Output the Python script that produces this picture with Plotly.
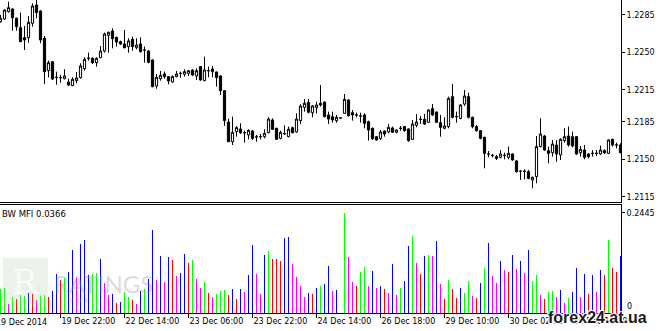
import plotly.graph_objects as go

# ---------------- data (hourly EURUSD-like candles) ----------------
opens = [1.22787, 1.22812, 1.22881, 1.22906, 1.22819, 1.22731, 1.22638, 1.22638, 1.22772, 1.22943,
         1.22887, 1.22632, 1.22329, 1.22413, 1.22267, 1.22264, 1.22254, 1.22223, 1.22189, 1.22236,
         1.22264, 1.22348, 1.22445, 1.22445, 1.22404, 1.22451, 1.22513, 1.22660, 1.22700, 1.22641,
         1.22600, 1.22579, 1.22554, 1.22622, 1.22544, 1.22579, 1.22522, 1.22513, 1.22429, 1.22186,
         1.22254, 1.22298, 1.22273, 1.22223, 1.22273, 1.22304, 1.22295, 1.22304, 1.22335, 1.22279,
         1.22367, 1.22236, 1.22329, 1.22345, 1.22317, 1.22279, 1.22142, 1.21849, 1.21665, 1.21759,
         1.21784, 1.21749, 1.21728, 1.21765, 1.21709, 1.21712, 1.21712, 1.21749, 1.21868, 1.21790,
         1.21696, 1.21740, 1.21712, 1.21796, 1.21756, 1.21862, 1.21986, 1.22033, 1.21936, 1.21983,
         1.22024, 1.22036, 1.21915, 1.21899, 1.21862, 1.21887, 1.21930, 1.22055, 1.21936, 1.21915,
         1.21905, 1.21915, 1.21852, 1.21790, 1.21712, 1.21696, 1.21765, 1.21756, 1.21793, 1.21753,
         1.21790, 1.21806, 1.21784, 1.21687, 1.21818, 1.21874, 1.21874, 1.21846, 1.21974, 1.21943,
         1.21843, 1.21790, 1.21806, 1.22086, 1.21899, 1.21883, 1.22017, 1.22086, 1.21893, 1.21806,
         1.21768, 1.21706, 1.21550, 1.21537, 1.21525, 1.21519, 1.21537, 1.21519, 1.21550, 1.21485,
         1.21388, 1.21388, 1.21385, 1.21307, 1.21338, 1.21619, 1.21718, 1.21581, 1.21562, 1.21634,
         1.21541, 1.21675, 1.21718, 1.21712, 1.21712, 1.21562, 1.21587, 1.21550, 1.21556, 1.21556,
         1.21550, 1.21581, 1.21556, 1.21687, 1.21634, 1.21634]
highs = [1.22850, 1.22903, 1.22974, 1.22912, 1.22825, 1.22872, 1.22747, 1.22840, 1.22959, 1.22990,
         1.22896, 1.22653, 1.22423, 1.22420, 1.22320, 1.22289, 1.22342, 1.22254, 1.22267, 1.22317,
         1.22398, 1.22454, 1.22498, 1.22454, 1.22454, 1.22560, 1.22685, 1.22694, 1.22725, 1.22647,
         1.22610, 1.22710, 1.22632, 1.22647, 1.22632, 1.22641, 1.22554, 1.22522, 1.22435, 1.22298,
         1.22326, 1.22320, 1.22279, 1.22286, 1.22326, 1.22320, 1.22342, 1.22335, 1.22342, 1.22351,
         1.22373, 1.22460, 1.22367, 1.22373, 1.22320, 1.22286, 1.22148, 1.21880, 1.21899, 1.21812,
         1.21837, 1.21768, 1.21781, 1.21774, 1.21728, 1.21737, 1.21781, 1.21893, 1.21883, 1.21796,
         1.21768, 1.21818, 1.21806, 1.21806, 1.21930, 1.22014, 1.22064, 1.22064, 1.22008, 1.22039,
         1.22195, 1.22039, 1.21946, 1.21946, 1.21915, 1.21890, 1.22111, 1.22061, 1.21961, 1.21936,
         1.21936, 1.21930, 1.21862, 1.21799, 1.21718, 1.21774, 1.21768, 1.21830, 1.21806, 1.21781,
         1.21812, 1.21812, 1.21790, 1.21868, 1.21924, 1.21905, 1.21924, 1.21968, 1.22017, 1.21946,
         1.21915, 1.21893, 1.22086, 1.22205, 1.21946, 1.22017, 1.22148, 1.22123, 1.21899, 1.21821,
         1.21774, 1.21712, 1.21578, 1.21550, 1.21541, 1.21587, 1.21562, 1.21619, 1.21556, 1.21494,
         1.21400, 1.21407, 1.21400, 1.21338, 1.21718, 1.21883, 1.21728, 1.21619, 1.21681, 1.21681,
         1.21696, 1.21790, 1.21806, 1.21759, 1.21718, 1.21625, 1.21634, 1.21556, 1.21587, 1.21587,
         1.21628, 1.21594, 1.21687, 1.21693, 1.21656, 1.21650]
lows = [1.22778, 1.22803, 1.22872, 1.22703, 1.22703, 1.22597, 1.22522, 1.22591, 1.22741, 1.22819,
        1.22585, 1.22205, 1.22267, 1.22242, 1.22198, 1.22217, 1.22248, 1.22186, 1.22186, 1.22211,
        1.22254, 1.22329, 1.22423, 1.22392, 1.22367, 1.22445, 1.22498, 1.22498, 1.22538, 1.22554,
        1.22569, 1.22538, 1.22498, 1.22516, 1.22529, 1.22498, 1.22404, 1.22398, 1.22173, 1.22161,
        1.22236, 1.22254, 1.22201, 1.22217, 1.22267, 1.22264, 1.22273, 1.22279, 1.22279, 1.22242,
        1.22236, 1.22230, 1.22267, 1.22267, 1.22180, 1.22102, 1.21812, 1.21662, 1.21634, 1.21712,
        1.21737, 1.21656, 1.21687, 1.21681, 1.21665, 1.21687, 1.21696, 1.21743, 1.21774, 1.21681,
        1.21687, 1.21728, 1.21706, 1.21743, 1.21749, 1.21830, 1.21946, 1.21930, 1.21893, 1.21930,
        1.21993, 1.21893, 1.21830, 1.21843, 1.21843, 1.21883, 1.21924, 1.21899, 1.21862, 1.21893,
        1.21843, 1.21790, 1.21675, 1.21681, 1.21675, 1.21681, 1.21712, 1.21743, 1.21749, 1.21743,
        1.21768, 1.21759, 1.21665, 1.21681, 1.21799, 1.21830, 1.21821, 1.21843, 1.21905, 1.21843,
        1.21712, 1.21781, 1.21790, 1.21883, 1.21843, 1.21874, 1.21999, 1.21883, 1.21790, 1.21759,
        1.21687, 1.21416, 1.21519, 1.21519, 1.21494, 1.21509, 1.21500, 1.21500, 1.21488, 1.21375,
        1.21307, 1.21313, 1.21313, 1.21229, 1.21276, 1.21612, 1.21581, 1.21463, 1.21525, 1.21478,
        1.21494, 1.21656, 1.21619, 1.21612, 1.21541, 1.21525, 1.21500, 1.21509, 1.21525, 1.21531,
        1.21541, 1.21550, 1.21550, 1.21619, 1.21603, 1.21556]
closes = [1.22819, 1.22896, 1.22918, 1.22825, 1.22741, 1.22600, 1.22616, 1.22781, 1.22934, 1.22872,
          1.22616, 1.22320, 1.22404, 1.22251, 1.22267, 1.22264, 1.22279, 1.22195, 1.22248, 1.22261,
          1.22373, 1.22435, 1.22445, 1.22404, 1.22445, 1.22513, 1.22672, 1.22688, 1.22628, 1.22597,
          1.22579, 1.22544, 1.22607, 1.22554, 1.22569, 1.22507, 1.22522, 1.22407, 1.22180, 1.22267,
          1.22286, 1.22273, 1.22233, 1.22273, 1.22298, 1.22304, 1.22320, 1.22329, 1.22289, 1.22329,
          1.22242, 1.22335, 1.22329, 1.22320, 1.22264, 1.22142, 1.21862, 1.21665, 1.21753, 1.21796,
          1.21749, 1.21749, 1.21771, 1.21696, 1.21709, 1.21712, 1.21743, 1.21877, 1.21781, 1.21687,
          1.21753, 1.21740, 1.21781, 1.21749, 1.21877, 1.21999, 1.22024, 1.21940, 1.21999, 1.22008,
          1.22008, 1.21899, 1.21877, 1.21868, 1.21893, 1.21887, 1.22061, 1.21908, 1.21915, 1.21915,
          1.21905, 1.21837, 1.21774, 1.21693, 1.21681, 1.21756, 1.21737, 1.21799, 1.21753, 1.21774,
          1.21790, 1.21768, 1.21675, 1.21830, 1.21849, 1.21874, 1.21830, 1.21961, 1.21915, 1.21846,
          1.21799, 1.21812, 1.22070, 1.21893, 1.21899, 1.22008, 1.22092, 1.21893, 1.21806, 1.21768,
          1.21696, 1.21556, 1.21550, 1.21537, 1.21509, 1.21550, 1.21537, 1.21556, 1.21494, 1.21385,
          1.21388, 1.21388, 1.21322, 1.21332, 1.21619, 1.21737, 1.21587, 1.21556, 1.21643, 1.21550,
          1.21687, 1.21712, 1.21634, 1.21625, 1.21550, 1.21594, 1.21519, 1.21525, 1.21556, 1.21556,
          1.21587, 1.21562, 1.21681, 1.21634, 1.21634, 1.21562]

# BW Market Facilitation Index histogram values and colour codes
mfi = [0.0571, 0.0595, 0.0212, 0.0383, 0.0334, 0.0432, 0.0416, 0.0481, 0.0456, 0.0302,
       0.0399, 0.0432, 0.0383, 0.0530, 0.0937, 0.0799, 0.0856, 0.0986, 0.1540, 0.0848,
       0.1671, 0.1777, 0.0921, 0.0954, 0.0970, 0.1312, 0.0725, 0.0432, 0.0456, 0.0236,
       0.0253, 0.0505, 0.0375, 0.0310, 0.0220, 0.0530, 0.0579, 0.0823, 0.2021, 0.0799,
       0.1386, 0.0750, 0.1361, 0.1288, 0.0905, 0.0970, 0.1434, 0.1214, 0.1288, 0.0823,
       0.0603, 0.0742, 0.0481, 0.0383, 0.0456, 0.0530, 0.0554, 0.0432, 0.0579, 0.0334,
       0.0579, 0.0505, 0.0921, 0.1654, 0.0945, 0.0456, 0.1410, 0.1508, 0.1312, 0.1312,
       0.1263, 0.1826, 0.1850, 0.1190, 0.0872, 0.0652, 0.0383, 0.0481, 0.0456, 0.0603,
       0.0652, 0.0701, 0.1141, 0.0530, 0.0554, 0.0000, 0.2445, 0.1361, 0.0750, 0.0652,
       0.0994, 0.1117, 0.0652, 0.1019, 0.0603, 0.0652, 0.0579, 0.0481, 0.1190, 0.0432,
       0.0603, 0.0774, 0.1630, 0.1875, 0.1214, 0.0945, 0.1386, 0.1410, 0.1386, 0.1752,
       0.0701, 0.0334, 0.0799, 0.0579, 0.0359, 0.0603, 0.0473, 0.0774, 0.0408, 0.0359,
       0.0725, 0.1092, 0.1703, 0.0897, 0.0725, 0.1263, 0.1043, 0.0994, 0.1410, 0.1068,
       0.1263, 0.0970, 0.1532, 0.0774, 0.0921, 0.0432, 0.0334, 0.0505, 0.0530, 0.0383,
       0.0554, 0.0236, 0.0359, 0.0505, 0.1092, 0.0383, 0.0945, 0.0456, 0.0921, 0.0505,
       0.1043, 0.0921, 0.1777, 0.1092, 0.0994, 0.1386]
mfi_codes = list(
    "ggmgrggbrm" "ggrbbrgbbm" "bbbggbmmbr" "bggrmbgbbm" "bmbrmbbrgm"
    "mgrmgggrbr" "bmbbmmbgrr" "rbbmmmmbrb" "gbbmbggmmr" "ggmbmbrmbm"
    "gbbgmrbgmb" "mrgrrbggmr" "bgbmmbmrbm" "bmbggmrggm" "bmgbbmbrbm"
    "brgrrb")

price_ticks = [1.2285, 1.2250, 1.2215, 1.2185, 1.2150, 1.2115]
price_labels = ["1.2285", "1.2250", "1.2215", "1.2185", "1.2150", "1.2115"]
date_tick_bars = [15, 31, 47, 63, 79, 95, 111, 127, 143]
date_labels = ["19 Dec 22:00", "22 Dec 14:00", "23 Dec 06:00", "23 Dec 22:00",
               "24 Dec 14:00", "26 Dec 18:00", "29 Dec 10:00", "30 Dec 02:00", "30 Dec 18:00"]
first_date_label = "19 Dec 2014"
mfi_label = "BW MFI 0.0366"
mfi_top_label = 0.2445

# ---------------- figure ----------------
color_map = {"g": "#00FF00", "r": "#FF0000", "b": "#0000FF", "m": "#FF00FF"}
idx = list(range(len(opens)))
FONT = "DejaVu Sans"
PLOT_H = 313.0
top_dom = [1 - 202 / PLOT_H, 1]
bot_dom = [0, 1 - 205 / PLOT_H]

fig = go.Figure()
fig.add_trace(go.Candlestick(
    x=idx, open=opens, high=highs, low=lows, close=closes,
    increasing=dict(line=dict(color="black", width=1), fillcolor="white"),
    decreasing=dict(line=dict(color="black", width=1), fillcolor="black"),
    whiskerwidth=0, xaxis="x", yaxis="y", showlegend=False, hoverinfo="skip"))
fig.add_trace(go.Bar(
    x=idx, y=mfi, width=0.25,
    marker=dict(color=[color_map[c] for c in mfi_codes], line=dict(width=0)),
    xaxis="x2", yaxis="y2", showlegend=False, hoverinfo="skip"))

xr = [-0.125, 155.125]
axis_font = dict(family=FONT, size=8, color="black")
fig.update_layout(
    width=661, height=331,
    margin=dict(l=0, r=40, t=0, b=18),
    paper_bgcolor="white", plot_bgcolor="white",
    boxgap=0.45, boxgroupgap=0, bargap=0,
    xaxis=dict(domain=[0, 1], range=xr, anchor="y", showticklabels=False, ticks="",
               showgrid=False, zeroline=False, rangeslider=dict(visible=False),
               showline=True, linecolor="black", linewidth=1, fixedrange=True),
    yaxis=dict(domain=top_dom, range=[1.21101, 1.22990], anchor="x", side="right",
               tickvals=price_ticks, ticktext=price_labels, ticks="outside", ticklen=3,
               tickcolor="black", tickfont=axis_font, showgrid=False, zeroline=False,
               showline=True, linecolor="black", linewidth=1),
    xaxis2=dict(domain=[0, 1], range=xr, anchor="y2", tickvals=date_tick_bars,
                ticktext=date_labels, ticks="outside", ticklen=4, tickcolor="black",
                ticklabelposition="outside right", tickfont=axis_font,
                showgrid=False, zeroline=False, showline=True, mirror=True,
                linecolor="black", linewidth=1),
    yaxis2=dict(domain=bot_dom, range=[-0.0007, 0.2633], anchor="x2", side="right",
                tickvals=[mfi_top_label], ticktext=[f"{mfi_top_label:.4f}"], ticks="outside",
                ticklen=3, tickcolor="black", tickfont=axis_font, showgrid=False,
                zeroline=False, showline=True, linecolor="black", linewidth=1),
    shapes=[
        dict(type="rect", xref="paper", yref="paper", x0=3 / 621, x1=48 / 621,
             y0=(PLOT_H - 305) / PLOT_H, y1=(PLOT_H - 258) / PLOT_H, layer="above",
             fillcolor="rgba(170,195,160,0.22)", line=dict(width=0)),
    ],
    annotations=[
        dict(text=mfi_label, xref="paper", yref="paper", x=0, y=bot_dom[1], xanchor="left",
             yanchor="top", xshift=0, yshift=-2, showarrow=False,
             font=dict(family=FONT, size=8.5, color="black")),
        dict(text="0", xref="paper", yref="y2", x=1, y=0, xanchor="left", yanchor="middle",
             xshift=4, yshift=6, showarrow=False, font=axis_font),
        dict(text=first_date_label, xref="paper", yref="paper", x=0, y=0, xanchor="left",
             yanchor="top", xshift=-6, yshift=-3, showarrow=False, font=axis_font),
        dict(text="R", xref="paper", yref="paper", x=25 / 621, y=(PLOT_H - 282) / PLOT_H,
             xanchor="center", yanchor="middle", showarrow=False,
             font=dict(family="DejaVu Serif", size=34, color="rgba(255,255,255,0.75)")),
        dict(text="RATINGS", xref="paper", yref="paper", x=52 / 621, y=(PLOT_H - 283) / PLOT_H,
             xanchor="left", yanchor="middle", showarrow=False,
             font=dict(family="Lato", size=24, color="rgba(150,150,150,0.35)")),
        dict(text="F  O  R  E  X", xref="paper", yref="paper", x=68 / 621,
             y=(PLOT_H - 300) / PLOT_H, xanchor="left", yanchor="middle", showarrow=False,
             font=dict(family="Lato", size=6, color="rgba(150,150,150,0.4)")),
        dict(text="<b>forex24.at.ua</b>", xref="paper", yref="paper", x=1, y=0,
             xanchor="right", yanchor="middle", xshift=28, yshift=-4, showarrow=False,
             font=dict(family="Liberation Sans", size=16, color="#1a1a1a",
                       shadow="1px 1px 0 #fff, -1px -1px 0 #fff, 1px -1px 0 #fff, -1px 1px 0 #fff")),
    ],
)

fig.write_html("out.html")
